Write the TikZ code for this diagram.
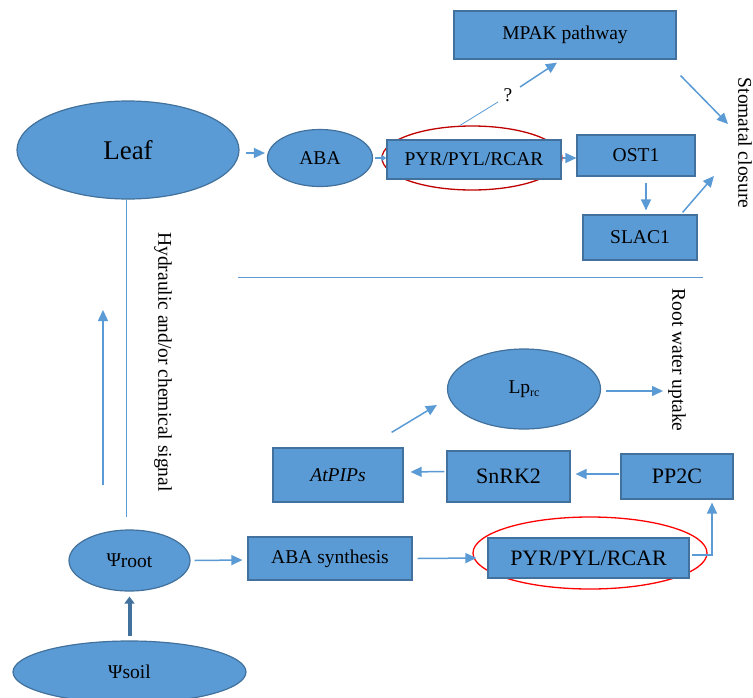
\documentclass[tikz,border=0pt]{standalone}
\usepackage{fontspec}
\setmainfont{Liberation Serif}
\usetikzlibrary{shapes.geometric,arrows.meta,calc}
\definecolor{fillb}{HTML}{5B9BD5}
\definecolor{edgeb}{HTML}{41719C}
\definecolor{arrb}{HTML}{5B9BD5}
\definecolor{redA}{HTML}{C00000}
\definecolor{redB}{HTML}{FF0000}
\begin{document}
\begin{tikzpicture}[x=1pt,y=-1pt,
  txt/.style={font=\fontsize{19.5}{22}\selectfont},
  box/.style={txt,draw=edgeb,fill=fillb,line width=1.2pt,rectangle,inner sep=0pt},
  ell/.style={txt,draw=edgeb,fill=fillb,line width=1.2pt,ellipse,inner sep=0pt},
  ring/.style={draw=#1,line width=1.3pt,ellipse,inner sep=0pt},
  arr/.style={draw=arrb,line width=1.5pt,-{Triangle[length=11pt,width=10pt]}},
  ln/.style={draw=arrb,line width=1pt},
  vlabel/.style={txt,rotate=-90,inner sep=0pt}]
\fill[white] (0,0) rectangle (753,697);
\useasboundingbox (0,0) rectangle (753,697);

% upper part
\node[ell,minimum width=222pt,minimum height=98pt,font=\fontsize{27}{30}\selectfont] (leaf) at (128,150) {Leaf};
\node[ell,minimum width=105pt,minimum height=57pt] (aba) at (320,158) {ABA};
\node[ring=redA,minimum width=180pt,minimum height=64pt] (ringt) at (472,158) {};
\node[box,minimum width=174pt,minimum height=39pt] (pyrt) at (474,159.5) {PYR/PYL/RCAR};
\node[box,minimum width=118pt,minimum height=41pt] (ost1) at (636,155.5) {OST1};
\node[box,minimum width=222pt,minimum height=48pt] (mpak) at (565,35) {MPAK pathway};
\node[box,minimum width=114pt,minimum height=45pt] (slac) at (640,237.5) {SLAC1};
\node[txt,inner sep=1pt] (q) at (508,95) {?};
\node[vlabel] (stoma) at (745,143) {Stomatal closure};
\coordinate (sc1) at (728,124);
\coordinate (sc2) at (714,176);

\draw[arr] ($(leaf.east)+(6,3)$) -- ($(aba.west)+(-2,-5)$);
\draw[draw=arrb,line width=1.3pt,-{Triangle[length=5pt,width=6pt]}] ($(aba.east)+(2,0)$) -- ($(pyrt.west)+(0,-1.5)$);
\draw[arr] ($(pyrt.east)+(1,-1.5)$) -- ($(ost1.west)+(0,2.5)$);
\draw[draw=arrb,line width=0.8pt] ($(pyrt.north)+(-14,-14)$) -- ($(q)+(-10,7)$);
\draw[arr] ($(q)+(12,-8)$) -- ($(mpak.south)+(-8,3)$);
\draw[arr] ($(mpak.south east)+(4,16)$) -- (sc1);
\draw[arr] ($(ost1.south)+(10,6)$) -- ($(slac.north)+(6,-4)$);
\draw[arr] ($(slac.north east)+(-15,-2)$) -- (sc2);

% dividers and signal
\coordinate (d1) at (238,277);
\coordinate (d2) at (703,277);
\draw[ln] (d1) -- (d2);
\draw[ln] ($(leaf.south)+(-2,0)$) -- (126,517);
\coordinate (ua1) at (103,485);
\coordinate (ua2) at (103,310);
\draw[arr] (ua1) -- (ua2);
\node[vlabel] (hyd) at (163,362) {Hydraulic and/or chemical signal};

% lower part
\node[vlabel] (rwu) at (677,360) {Root water uptake};
\coordinate (rw) at (663,391);
\node[ell,minimum width=153pt,minimum height=80pt] (lp) at (524,389) {Lp\raisebox{-0.35ex}{\fontsize{12}{14}\selectfont rc}};
\node[box,minimum width=130pt,minimum height=54pt] (atpips) at (338,475) {\textit{AtPIPs}};
\node[box,minimum width=123pt,minimum height=51pt,font=\fontsize{22}{25}\selectfont] (snrk) at (508.5,476.5) {SnRK2};
\node[box,minimum width=112pt,minimum height=45pt,font=\fontsize{22}{25}\selectfont] (pp2c) at (677,476.5) {PP2C};
\node[ring=redB,minimum width=234pt,minimum height=72pt] (ringb) at (590,553) {};
\node[box,minimum width=201pt,minimum height=40pt,font=\fontsize{22}{25}\selectfont] (pyrb) at (588.5,558) {PYR/PYL/RCAR};
\node[box,minimum width=164pt,minimum height=43pt] (abas) at (330,558.5) {ABA synthesis};
\node[ell,minimum width=121pt,minimum height=61pt] (root) at (129.5,560.5) {\raisebox{0.1ex}{Ψ}root};
\node[ell,minimum width=233pt,minimum height=62pt] (soil) at (129.5,672) {Ψsoil};

\draw[arr] ($(lp.east)+(5,2)$) -- (rw);
\draw[arr] ($(atpips.north east)+(-12,-15)$) -- ($(lp.west)+(-10,16)$);
\draw[arr] ($(snrk.west)+(-2,-5)$) -- ($(atpips.east)+(7,-3)$);
\draw[arr] ($(pp2c.west)+(-1,-2.5)$) -- ($(snrk.east)+(5,-2.5)$);
\draw[arr] ($(abas.east)+(5,0)$) -- ($(pyrb.west)+(-11,0)$);
\draw[arr] ($(pyrb.east)+(2,-3)$) -| ($(pp2c.south)+(35,3)$);
\draw[arr] ($(root.east)+(4,0)$) -- ($(abas.west)+(-5,1.5)$);
\draw[draw=edgeb,line width=4pt,-{Triangle[length=7pt,width=10pt]}] ($(soil.north)+(0,-4)$) -- ($(root.south)+(0,5)$);
\end{tikzpicture}
\end{document}
